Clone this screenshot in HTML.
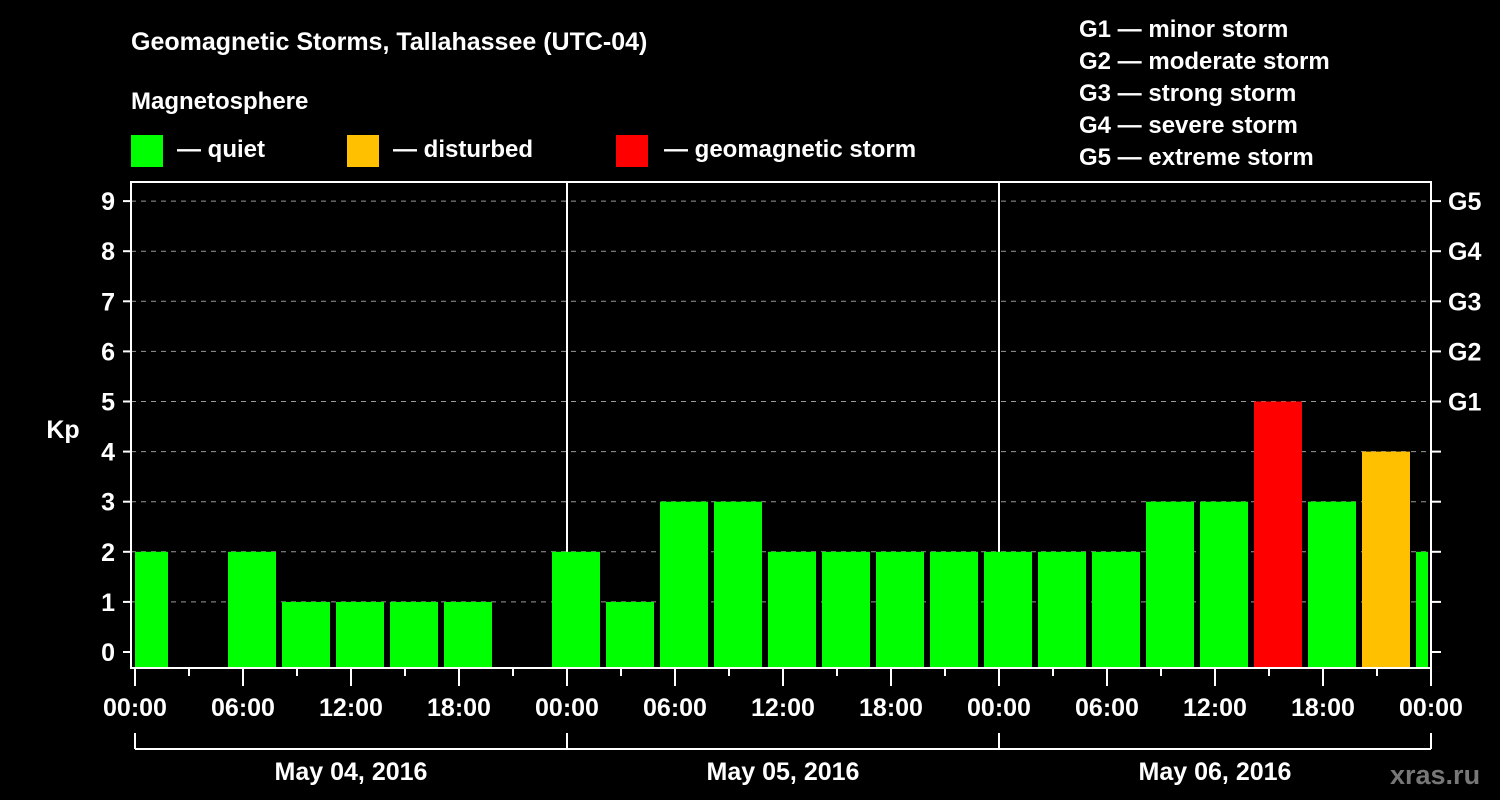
<!DOCTYPE html>
<html><head><meta charset="utf-8"><style>
body{margin:0;background:#000;}
svg{display:block;font-family:"Liberation Sans",sans-serif;font-weight:bold;}
</style></head><body>
<svg id="c" width="1500" height="800" viewBox="0 0 1500 800">
<rect width="1500" height="800" fill="#000"/>
<text x="131" y="50" fill="#fff" font-size="25">Geomagnetic Storms, Tallahassee (UTC-04)</text>
<text x="131" y="109" fill="#fff" font-size="24">Magnetosphere</text>
<g><rect x="131" y="135" width="32" height="32" fill="#00ff00"/><text x="177" y="157" fill="#fff" font-size="24">— quiet</text></g>
<g><rect x="347" y="135" width="32" height="32" fill="#ffc000"/><text x="393" y="157" fill="#fff" font-size="24">— disturbed</text></g>
<g><rect x="616" y="135" width="32" height="32" fill="#ff0000"/><text x="664" y="157" fill="#fff" font-size="24">— geomagnetic storm</text></g>
<g fill="#fff" font-size="24">
<text x="1079" y="37">G1 — minor storm</text>
<text x="1079" y="69">G2 — moderate storm</text>
<text x="1079" y="101">G3 — strong storm</text>
<text x="1079" y="133">G4 — severe storm</text>
<text x="1079" y="165">G5 — extreme storm</text>
</g>
<text x="63" y="438" fill="#fff" font-size="25" text-anchor="middle">Kp</text>
<text x="1390" y="784" fill="#777" font-size="27">xras.ru</text>
<g id="grid"></g><g id="bars"></g><g id="axes"></g>
</svg>
<script>
const values=[2,0,2,1,1,1,1,0,2,1,3,3,2,2,2,2,2,2,2,3,3,5,3,4,2];
const yTicks=[0,1,2,3,4,5,6,7,8,9];
const gLabels=["G1","G2","G3","G4","G5"];
const xLabels=["00:00","06:00","12:00","18:00","00:00","06:00","12:00","18:00","00:00","06:00","12:00","18:00","00:00"];
const dayLabels=["May 04, 2016","May 05, 2016","May 06, 2016"];
const firstStart=-1, step=3, totalH=72;
const X0=135,PXH=18,XL=131,XR=1431,YT=182,YB=668;
const x=h=>X0+h*PXH, y=v=>652-v*50.1;
const NS="http://www.w3.org/2000/svg";
function mk(p,t,a){const e=document.createElementNS(NS,t);for(const k in a)e.setAttribute(k,a[k]);p.appendChild(e);return e;}
const G=document.getElementById('grid'),B=document.getElementById('bars'),A=document.getElementById('axes');
yTicks.forEach(v=>{if(v>0){const l=mk(G,'line',{x1:XL,x2:XR,y1:y(v),y2:y(v),stroke:'#999','stroke-dasharray':'5,5','stroke-width':1});

}
const t=mk(A,'text',{x:115,y:y(v)+9,fill:'#fff','font-size':25,'text-anchor':'end'});t.textContent=v;


mk(A,'line',{x1:XL-8,x2:XL,y1:y(v),y2:y(v),stroke:'#fff','stroke-width':2});
mk(A,'line',{x1:XR,x2:XR+10,y1:y(v),y2:y(v),stroke:'#fff','stroke-width':2});});
gLabels.forEach((g,i)=>{const t=mk(A,'text',{x:1448,y:y(5+i)+9,fill:'#fff','font-size':25});t.textContent=g;

});
[1,2].forEach(d=>mk(G,'line',{x1:x(24*d),x2:x(24*d),y1:YT,y2:YB,stroke:'#fff','stroke-width':2}));
values.forEach((v,i)=>{if(v<=0)return;const s=firstStart+i*step;
let a=Math.max(x(s)+3,x(0)),b=Math.min(x(s+step)-3,x(totalH)-3);
const col=v>=5?'#ff0000':(v>=4?'#ffc000':'#00ff00');
const r=mk(B,'rect',{x:a,y:y(v),width:b-a,height:YB-1-y(v),fill:col});

});
mk(A,'rect',{x:XL,y:YT,width:XR-XL,height:YB-YT,fill:'none',stroke:'#fff','stroke-width':2});
for(let h=0;h<=totalH;h+=3){mk(A,'line',{x1:x(h),x2:x(h),y1:YB,y2:YB+(h%6?8:18),stroke:'#fff','stroke-width':2});}
xLabels.forEach((l,i)=>{const t=mk(A,'text',{x:x(i*6),y:716,fill:'#fff','font-size':25,'text-anchor':'middle'});t.textContent=l;

});
mk(A,'line',{x1:x(0),x2:x(totalH),y1:749,y2:749,stroke:'#fff','stroke-width':2});
for(let d=0;d<=3;d++)mk(A,'line',{x1:x(24*d),x2:x(24*d),y1:733,y2:749,stroke:'#fff','stroke-width':2});
dayLabels.forEach((l,i)=>{const t=mk(A,'text',{x:x(24*i+12),y:780,fill:'#fff','font-size':25,'text-anchor':'middle'});t.textContent=l;

});
</script>
</body></html>
